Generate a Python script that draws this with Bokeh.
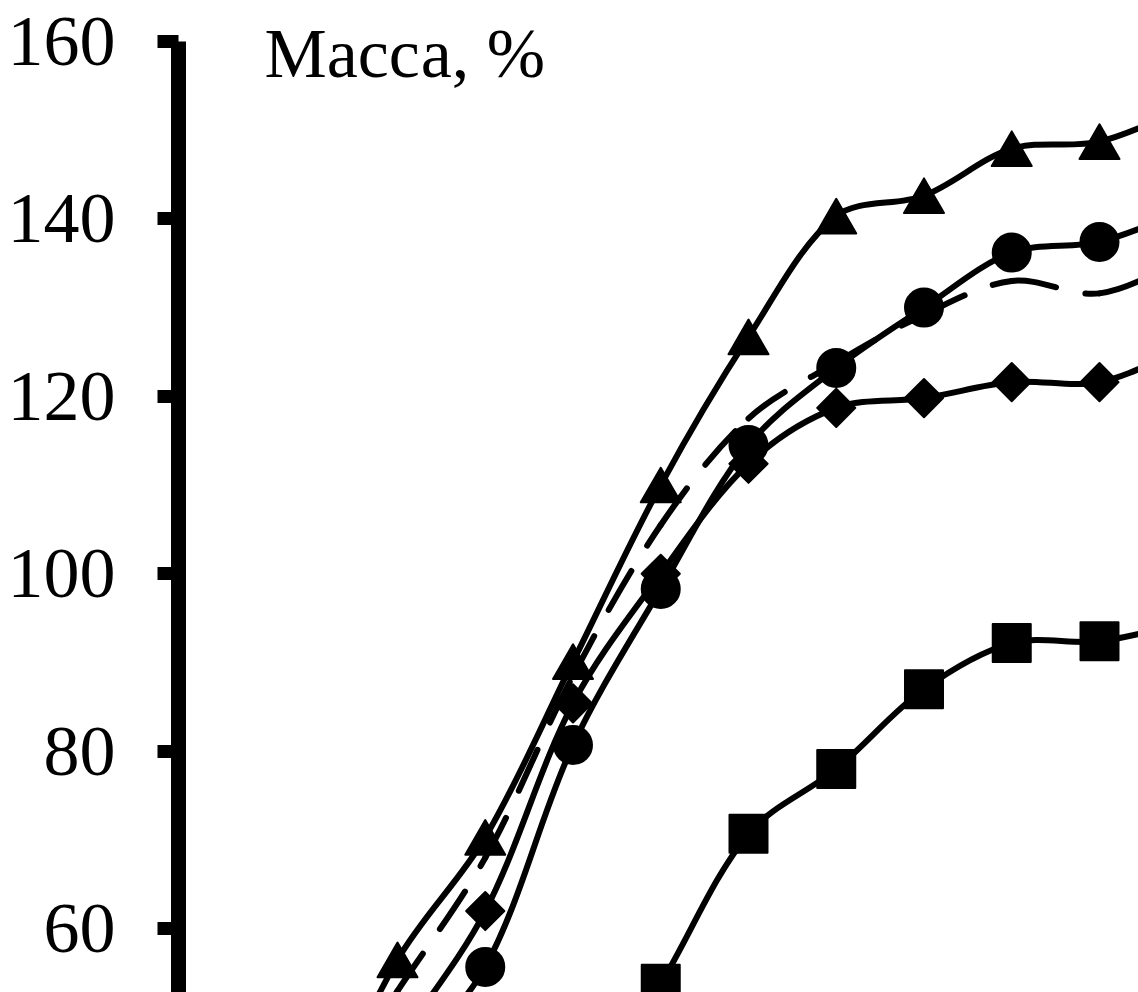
import numpy as np
from bokeh.plotting import figure
from bokeh.models import Range1d, FixedTicker, Label
from bokeh.embed import file_html
from bokeh.resources import INLINE

# ---------------- data (category index, value in %) ----------------
tri_x = [1, 2, 3, 4, 5, 6, 7, 8, 9, 10, 11]
tri_y = [36.0, 56.5, 70.3, 90.1, 110.0, 126.7, 140.3, 142.6, 147.9, 148.7, 152.5]

cir_x = [2, 3, 4, 5, 6, 7, 8, 9, 10, 11]
cir_y = [44.0, 55.7, 80.7, 98.3, 114.5, 123.2, 130.0, 136.2, 137.4, 141.0]

dia_x = [2, 3, 4, 5, 6, 7, 8, 9, 10, 11]
dia_y = [47.0, 62.0, 85.4, 100.0, 112.4, 118.7, 119.8, 121.6, 121.6, 125.5]

sq_x = [4, 5, 6, 7, 8, 9, 10, 11]
sq_y = [38.0, 53.8, 70.7, 78.0, 87.0, 92.2, 92.4, 94.5]

dash_x = [1, 2, 3, 4, 5, 6, 7, 8, 9, 10, 11]
dash_y = [38.0, 53.0, 68.0, 88.5, 105.5, 117.5, 123.8, 129.2, 133.0, 131.6, 135.5]

y_ticks = [60, 80, 100, 120, 140, 160]
y_title = "Масса, %"

# ---------------- layout ----------------
W, H = 1138, 992
LEFT = 178
X0 = -0.4957
X1 = X0 + (W - LEFT) / 87.75
Y0, Y1 = 52.82, 164.60
PX_X = (W - LEFT) / (X1 - X0)
PX_Y = H / (Y1 - Y0)

p = figure(width=W, height=H, output_backend="svg", toolbar_location=None,
           x_range=Range1d(X0, X1), y_range=Range1d(Y0, Y1),
           x_axis_location=None, y_axis_location="left",
           min_border_left=LEFT, min_border_right=0, min_border_top=0, min_border_bottom=0)
p.outline_line_color = None
p.xgrid.visible = False
p.ygrid.visible = False
p.background_fill_color = "white"
p.border_fill_color = "white"

ax = p.yaxis[0]
ax.ticker = FixedTicker(ticks=y_ticks)
ax.bounds = (0, 160)
ax.axis_line_width = 15
ax.axis_line_color = "black"
ax.major_tick_line_width = 13
ax.major_tick_line_color = "black"
ax.major_tick_out = 21
ax.major_tick_in = 0
ax.minor_tick_line_color = None
ax.major_label_text_font = "Liberation Serif"
ax.major_label_text_font_size = "72px"
ax.major_label_text_color = "black"
ax.major_label_standoff = 42


def smooth(xs, ys):
    P = np.column_stack([np.asarray(xs, float) * PX_X, np.asarray(ys, float) * PX_Y])
    n = len(P)
    out = {k: [] for k in ("x0", "y0", "x1", "y1", "cx0", "cy0", "cx1", "cy1")}
    for i in range(n - 1):
        p0 = P[i - 1] if i > 0 else P[i]
        p1, p2 = P[i], P[i + 1]
        p3 = P[i + 2] if i + 2 < n else P[i + 1]
        d01 = np.linalg.norm(p1 - p0)
        d12 = np.linalg.norm(p2 - p1)
        d23 = np.linalg.norm(p3 - p2)
        f1 = d12 / (d01 + d12) if d01 + d12 > 0 else 0
        f2 = d12 / (d12 + d23) if d12 + d23 > 0 else 0
        c1 = p1 + (p2 - p0) * f1 / 3
        c2 = p2 - (p3 - p1) * f2 / 3
        for key, pt in (("0", p1), ("1", p2)):
            out["x" + key].append(pt[0] / PX_X)
            out["y" + key].append(pt[1] / PX_Y)
        out["cx0"].append(c1[0] / PX_X); out["cy0"].append(c1[1] / PX_Y)
        out["cx1"].append(c2[0] / PX_X); out["cy1"].append(c2[1] / PX_Y)
    return out


LW = 6
for xs, ys in ((sq_x, sq_y), (dia_x, dia_y), (cir_x, cir_y), (tri_x, tri_y)):
    p.bezier(**smooth(xs, ys), line_color="black", line_width=LW,
             line_cap="round", line_join="round")
p.bezier(**smooth(dash_x, dash_y), line_color="black", line_width=LW,
         line_cap="round", line_dash="45 30")

mk = dict(fill_color="black", line_color="black", line_width=2, line_join="round")
p.scatter(sq_x, sq_y, marker="square", size=38, **mk)
p.scatter(dia_x, dia_y, marker="square", angle=np.pi / 4, size=27, **mk)
p.scatter(cir_x, cir_y, marker="circle", size=38, **mk)
tri_shift = (0.866 * 40) / 6 / PX_Y
p.extra_y_ranges = {"tri": Range1d(Y0 + tri_shift, Y1 + tri_shift)}
p.scatter(tri_x, tri_y, marker="triangle", size=40, y_range_name="tri", **mk)

p.add_layout(Label(x=0.484, y=158.6, text=y_title, text_font="Liberation Serif",
                   text_font_size="70px", text_color="black",
                   text_align="left", text_baseline="alphabetic"))

open("out.html", "w").write(file_html(p, INLINE))
